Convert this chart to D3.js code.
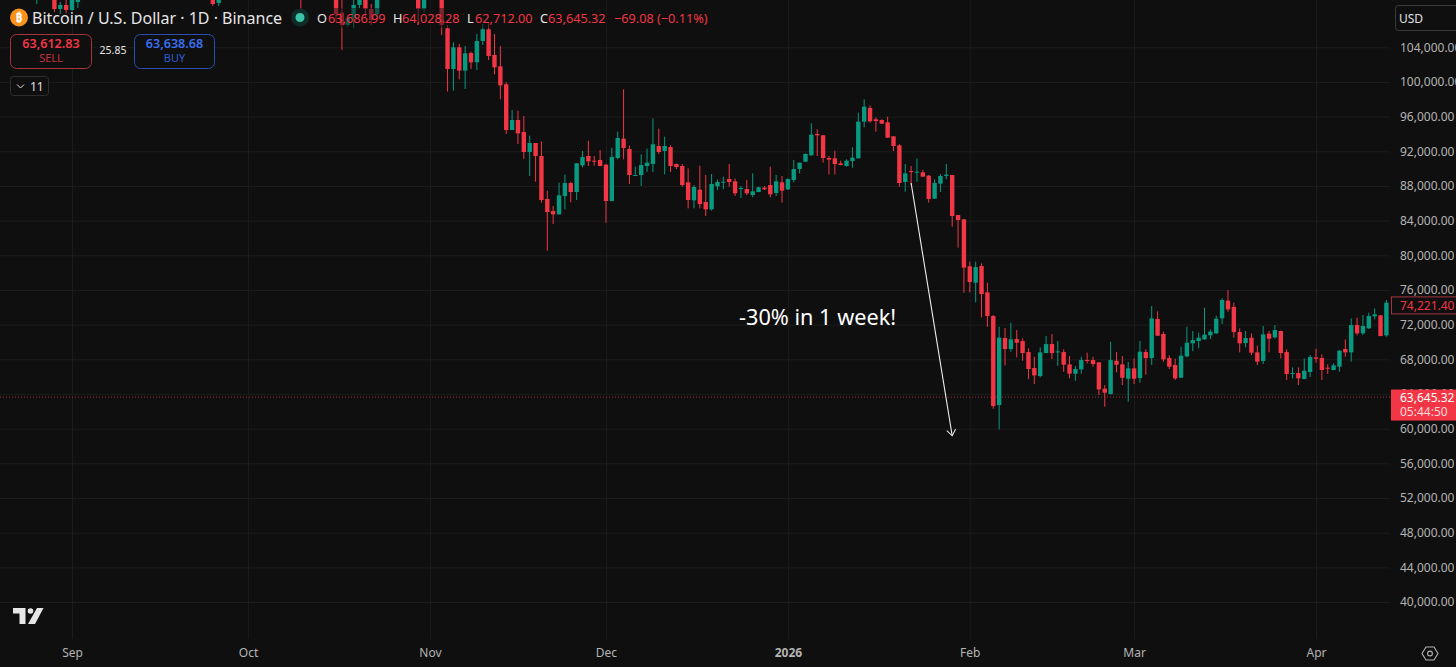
<!DOCTYPE html>
<html>
<head>
<meta charset="utf-8">
<script src="https://cdn.jsdelivr.net/npm/d3@7"></script>
<style>
  html, body { margin: 0; padding: 0; background: #0f0f0f; overflow: hidden; }
  text { font-family: "Noto Sans", sans-serif; }
  .grid line { stroke: #1c1c1c; stroke-width: 1; }
  .grid path { display: none; }
  .axis path { display: none; }
  .axis line { display: none; }
  .axis text { fill: #b4b4b4; font-size: 12px; font-family: "Noto Sans", sans-serif; }
</style>
</head>
<body>
<script>
// candles that only just show at the top edge (mostly above the view)
var earlyDates = ["2025-08-26","2025-08-29","2025-08-30","2025-08-31","2025-09-01","2025-09-02",
  "2025-09-25","2025-09-26","2025-10-10","2025-10-16","2025-10-17","2025-10-18","2025-10-19",
  "2025-10-20","2025-10-21","2025-10-22","2025-10-23","2025-10-30","2025-10-31"];
var earlyOpen  = [109800,110200,108422,108884,108307,109230,110500,109115,112000,110500,108000,106576,107384,108884,110000,108422,107845,110500,108422];
var earlyHigh  = [111000,110800,109230,109500,110500,111500,111000,110500,113000,111000,109500,107500,109600,111000,110500,109000,110500,111000,111000];
var earlyLow   = [109000,108076,107845,107961,108192,108538,108769,108769,108422,106922,103691,106400,106230,108500,107499,106576,107499,106576,108000];
var earlyClose = [110500,108422,108884,108307,109900,111000,109000,110000,110000,107845,106576,107384,108884,110000,108422,107153,110000,108422,110000];

// daily candles from 3 Nov 2025 to 13 Apr 2026
var firstDay = "2025-11-03";
var opens = [110000,106192,101499,104000,101307,103345,102268,104730,106077,103115,101807,99729,94459,95613,94228,91920,92958,91458,86495,85110,
  84726,86842,88342,87303,90381,91458,90919,90996,90458,86265,91227,93458,92266,89188,89265,90304,90535,92612,92035,92497,
  90535,90304,88419,86342,87574,86150,85304,87958,88381,88805,88535,87650,87650,86958,87304,87804,88112,87189,88420,87612,
  88689,89959,90805,91536,93998,93844,91228,91190,90613,90305,90882,91190,95421,96999,95691,95614,95344,93729,92690,88458,
  89728,89536,89574,89189,86535,88266,89151,89266,84650,84150,78726,76841,78765,75726,72994,62723,70455,69186,70339,70109,
  68839,66993,66069,68724,69762,68801,68839,67416,66339,66839,67916,67916,67647,64608,63992,67839,67416,65761,66954,65838,
  68839,68147,72648,70917,68147,67339,65878,68340,69841,70110,70302,70764,70995,72726,74765,74034,71149,69879,70495,68802,
  67802,70956,70533,71264,68840,66301,66417,65724,66532,68225,68148,67032,66763,67148,69187,68802,71956,70995,71572,72957,
  73072,70764];
var highs = [110500,106577,104576,104384,104153,103499,105538,106692,106769,105538,104153,99960,96767,96690,96075,93805,92958,93151,87458,85687,
  88380,89304,88496,90612,92035,93228,91458,92151,90535,92420,94266,99152,92651,90227,91651,92304,95805,94612,93689,92689,
  90573,90535,90035,88112,90343,89266,89382,88766,89074,90536,88843,87997,88689,89458,87920,87997,90228,89266,89151,88882,
  90997,90690,91767,95229,94537,93883,91459,92074,90920,91074,92459,96460,97999,97306,95921,95691,95998,93767,92805,90536,
  90305,91190,89843,89266,88766,89382,90536,89266,84650,84189,79265,79265,79072,76841,73110,71763,71609,72225,71378,70416,
  69263,68301,69378,70686,70917,70109,69147,68377,67224,68301,68762,68301,67685,65031,70032,68839,68377,67685,68108,70109,
  69147,74148,73533,71186,68455,68070,69456,71764,71264,71072,73957,71456,73034,75034,75996,74534,71572,71264,70995,69571,
  71841,71264,71957,71302,69148,67071,67071,68109,68494,69225,68571,67417,67533,69071,70302,72726,72803,73110,73380,73880,
  73110,74842];
var lows = [105420,98883,99000,100306,99191,101499,101383,104269,102538,100883,97998,93997,94459,92843,91150,89150,88496,86072,80532,83611,
  84700,85303,86111,86380,90150,90304,90342,90280,83764,86240,91073,91073,88227,89170,87996,89612,89612,91689,89342,89612,
  89958,87919,85419,85419,85419,84534,85150,87535,87612,87920,86842,86612,86958,86689,87280,87535,86689,86842,86073,87535,
  88420,89459,90780,91510,91459,90690,89343,89343,90382,90228,90113,91170,94767,95306,94267,95152,93550,92036,87920,87343,
  88112,88497,89050,86073,86510,87304,88766,83303,80880,75687,75726,74571,72841,71763,62299,59914,67300,68878,68224,67839,
  65723,65146,65916,68700,68031,67262,66570,65800,65531,66339,67531,67146,63877,62530,63950,66493,65031,63107,65146,65300,
  66224,67339,70700,67723,66878,65608,65855,68225,68956,69264,70280,70340,70918,72072,73495,70495,68802,69379,68494,67340,
  67456,68802,70379,68110,65609,65801,65032,65700,65955,67610,65609,66302,66740,66571,68302,67725,70764,70802,71495,72610,
  70660,70610];
var closes = [106580,101499,104000,101307,103307,102268,104730,106077,103000,101691,99614,94459,95613,94074,91920,92958,91458,86380,84995,84726,
  86919,88342,87303,90612,91343,90842,90842,90304,86265,91343,93535,92381,89265,89265,90419,90689,92805,91920,92612,90304,
  90189,88111,86380,87881,85919,85304,88228,88458,88497,88458,87150,87766,87150,87381,87843,87612,87035,88535,87458,88805,
  89959,90690,91690,93921,93844,91228,91036,90536,90420,90920,91267,95421,97152,95460,95498,95190,93575,92613,88343,89459,
  89612,89651,89074,86497,88343,89151,89305,84534,84073,78572,76918,78649,75533,72994,62607,70494,69186,70301,69917,68724,
  66878,66146,68800,69762,68724,68916,67377,66339,66877,67916,67800,67455,64531,64146,67916,67377,65877,66954,65761,68878,
  68147,72725,70724,67993,67147,65800,68417,69917,70225,70495,70841,71187,72687,74842,73765,71149,69841,70456,68764,67725,
  70879,70379,71379,68725,66301,66417,65801,66686,68263,68071,66763,66917,67302,68994,68802,71956,70995,71841,72995,73187,
  70687,74534];

// axis ticks
var priceTicks = [40000,44000,48000,52000,56000,60000,64000,68000,72000,76000,80000,84000,88000,92000,96000,100000,104000];
var monthTicks = ["2025-09-01","2025-10-01","2025-11-01","2025-12-01","2026-01-01","2026-02-01","2026-03-01","2026-04-01"];
var monthLabels = ["Sep","Oct","Nov","Dec","2026","Feb","Mar","Apr"];

// price lines and the drawing
var lastPrice = 63645.32;
var otherPrice = 74221.40;
var arrowFrom = {date: "2026-01-22", price: 88343};
var arrowTo = {date: "2026-01-29", price: 59182};

var width = 1456;
var height = 667;
var plotRight = 1390;
var plotBottom = 639;
var red = "#f23645";
var green = "#089981";

var parseDay = d3.utcParse("%Y-%m-%d");

var recentDays = d3.utcDay.range(parseDay(firstDay), d3.utcDay.offset(parseDay(firstDay), opens.length));

var candles = earlyDates.map(function(d, i){
  return {date: parseDay(d), o: earlyOpen[i], h: earlyHigh[i], l: earlyLow[i], c: earlyClose[i]};
}).concat(recentDays.map(function(d, i){
  return {date: d, o: opens[i], h: highs[i], l: lows[i], c: closes[i]};
}));

var svg = d3.select("body")
            .append("svg")
            .attr("width",width)
            .attr("height",height)
            .style("display","block");

var xScale = d3.scaleUtc()
                .domain([parseDay("2025-09-01"),parseDay("2026-04-01")])
                .range([72,1316]);

var yScale = d3.scaleLinear()
                .domain([40000,104000])
                .range([602,47.3]);

svg.append("rect").attr("width",width).attr("height",height).attr("fill","#0f0f0f");

// grid
svg.append("g")
    .attr("class","grid")
    .attr("transform","translate(0,"+plotBottom+")")
    .call(d3.axisBottom(xScale).tickValues(monthTicks.map(parseDay)).tickSize(-plotBottom).tickFormat(""));

svg.append("g")
    .attr("class","grid")
    .attr("transform","translate("+plotRight+",0)")
    .call(d3.axisLeft(yScale).tickValues(priceTicks).tickSize(plotRight).tickFormat(""));

// last price line
svg.append("line")
    .attr("x1",0)
    .attr("x2",plotRight)
    .attr("y1",yScale(lastPrice))
    .attr("y2",yScale(lastPrice))
    .attr("stroke",red)
    .attr("stroke-opacity",0.65)
    .attr("stroke-dasharray","1 2");

// candles
var candleG = svg.append("g");

candleG.selectAll("line.wick")
    .data(candles)
    .enter()
    .append("line")
    .attr("class","wick")
    .attr("x1",function(d){ return xScale(d.date); })
    .attr("x2",function(d){ return xScale(d.date); })
    .attr("y1",function(d){ return yScale(d.h); })
    .attr("y2",function(d){ return yScale(d.l); })
    .attr("stroke",function(d){ return d.c >= d.o ? green : red; })
    .attr("stroke-width",1);

candleG.selectAll("rect.body")
    .data(candles)
    .enter()
    .append("rect")
    .attr("class","body")
    .attr("x",function(d){ return xScale(d.date)-2.2; })
    .attr("width",4.4)
    .attr("y",function(d){ return yScale(Math.max(d.o,d.c)); })
    .attr("height",function(d){ return Math.max(1,Math.abs(yScale(d.o)-yScale(d.c))); })
    .attr("fill",function(d){ return d.c >= d.o ? green : red; });

// annotation
svg.append("defs").append("marker")
    .attr("id","arrowHead")
    .attr("markerUnits","userSpaceOnUse")
    .attr("viewBox","-7 -6 8 12")
    .attr("refX",0)
    .attr("refY",0)
    .attr("markerWidth",8)
    .attr("markerHeight",12)
    .attr("orient","auto")
    .append("path")
    .attr("d","M-6,-4.5L0,0L-6,4.5")
    .attr("fill","none")
    .attr("stroke","#f0f0f0")
    .attr("stroke-width",1);

svg.append("line")
    .attr("x1",xScale(parseDay(arrowFrom.date)))
    .attr("y1",yScale(arrowFrom.price))
    .attr("x2",xScale(parseDay(arrowTo.date)))
    .attr("y2",yScale(arrowTo.price))
    .attr("stroke","#f0f0f0")
    .attr("stroke-width",1.1)
    .attr("marker-end","url(#arrowHead)");

svg.append("text")
    .attr("x",739)
    .attr("y",325)
    .attr("fill","#ffffff")
    .style("font-size","21.7px")
    .text("-30% in 1 week!");

// price axis
svg.append("g")
    .attr("class","axis")
    .attr("transform","translate("+plotRight+",0)")
    .call(d3.axisRight(yScale).tickValues(priceTicks).tickSize(0).tickPadding(10).tickFormat(d3.format(",.2f")));

// time axis
svg.append("g")
    .attr("class","axis")
    .attr("transform","translate(0,"+plotBottom+")")
    .call(d3.axisBottom(xScale).tickValues(monthTicks.map(parseDay)).tickSize(0).tickPadding(9)
      .tickFormat(function(d,i){ return monthLabels[i]; }))
    .selectAll("text")
    .style("font-weight",function(d,i){ return monthLabels[i] == "2026" ? "bold" : "normal"; });

// price labels on the axis
svg.append("rect")
    .attr("x",1391.5).attr("y",yScale(otherPrice)-8.5)
    .attr("width",70).attr("height",17)
    .attr("fill","#0f0f0f").attr("stroke","#a8333d");
svg.append("text")
    .attr("x",1400).attr("y",yScale(otherPrice)+4.5)
    .attr("fill",red).style("font-size","12px")
    .text(d3.format(",.2f")(otherPrice));

svg.append("rect")
    .attr("x",1391).attr("y",yScale(lastPrice)-7.5)
    .attr("width",65).attr("height",31)
    .attr("fill",red);
svg.append("text")
    .attr("x",1400).attr("y",yScale(lastPrice)+5)
    .attr("fill","#ffffff").style("font-size","12px")
    .text(d3.format(",.2f")(lastPrice));
svg.append("text")
    .attr("x",1400).attr("y",yScale(lastPrice)+18.5)
    .attr("fill","#ffd9dc").style("font-size","12px")
    .text("05:44:50");

// USD button
svg.append("rect")
    .attr("x",1395.5).attr("y",5.5).attr("width",70).attr("height",25).attr("rx",3)
    .attr("fill","#0f0f0f").attr("stroke","#3a3a3a");
svg.append("text")
    .attr("x",1399).attr("y",22.5).attr("fill","#e0e0e0").style("font-size","12px").text("USD");

// legend
svg.append("rect")
    .attr("x",290).attr("y",8).attr("width",424).attr("height",20)
    .attr("fill","#0f0f0f").attr("fill-opacity",0.5);

svg.append("circle").attr("cx",19).attr("cy",17.5).attr("r",9).attr("fill","#f7931a");
svg.append("text").attr("x",19).attr("y",22).attr("text-anchor","middle")
    .attr("fill","#ffffff").style("font-size","12px").style("font-weight","bold").text("₿");

svg.append("text")
    .attr("x",32).attr("y",23.5)
    .attr("fill","#e6e6e6")
    .style("font-size","16px")
    .text("Bitcoin / U.S. Dollar · 1D · Binance");

svg.append("circle").attr("cx",300).attr("cy",17.5).attr("r",9).attr("fill","#0f9d82").attr("fill-opacity",0.22);
svg.append("circle").attr("cx",300).attr("cy",17.5).attr("r",4.5).attr("fill","#3cc4a8");

var legendParts = [
  {x:317, t:"O", c:"#e6e6e6"}, {x:328, t:"63,686.99", c:red},
  {x:393, t:"H", c:"#e6e6e6"}, {x:402, t:"64,028.28", c:red},
  {x:467, t:"L", c:"#e6e6e6"}, {x:475, t:"62,712.00", c:red},
  {x:540, t:"C", c:"#e6e6e6"}, {x:548, t:"63,645.32", c:red},
  {x:614, t:"−69.08 (−0.11%)", c:red}
];
svg.selectAll("text.legend")
    .data(legendParts)
    .enter()
    .append("text")
    .attr("class","legend")
    .attr("x",function(d){ return d.x; })
    .attr("y",22.5)
    .attr("fill",function(d){ return d.c; })
    .style("font-size","12.7px")
    .text(function(d){ return d.t; });

// sell / buy
svg.append("rect").attr("x",10.5).attr("y",34.5).attr("width",81).attr("height",34).attr("rx",6)
    .attr("fill","#0f0f0f").attr("stroke","#a8333d");
svg.append("text").attr("x",51).attr("y",48).attr("text-anchor","middle").attr("fill",red)
    .style("font-size","12.6px").style("font-weight","600").text("63,612.83");
svg.append("text").attr("x",51).attr("y",62).attr("text-anchor","middle").attr("fill","#c9303c")
    .style("font-size","11px").text("SELL");
svg.append("text").attr("x",113).attr("y",54).attr("text-anchor","middle").attr("fill","#e6e6e6")
    .style("font-size","10.5px").text("25.85");
svg.append("rect").attr("x",134.5).attr("y",34.5).attr("width",80).attr("height",34).attr("rx",6)
    .attr("fill","#0f0f0f").attr("stroke","#2a4fb0");
svg.append("text").attr("x",174.5).attr("y",48).attr("text-anchor","middle").attr("fill","#3b6ff0")
    .style("font-size","12.6px").style("font-weight","600").text("63,638.68");
svg.append("text").attr("x",174.5).attr("y",62).attr("text-anchor","middle").attr("fill","#2f5bd0")
    .style("font-size","11px").text("BUY");

// collapse button
svg.append("rect").attr("x",10.5).attr("y",76.5).attr("width",38).attr("height",19).attr("rx",3)
    .attr("fill","#0f0f0f").attr("stroke","#2e2e2e");
svg.append("path").attr("d","M17,84.5L20.5,88L24,84.5").attr("fill","none").attr("stroke","#e0e0e0");
svg.append("text").attr("x",30).attr("y",91).attr("fill","#e0e0e0").style("font-size","12px").text("11");

// logo
svg.append("path").attr("d","M13,608H25.5V624H19.5V613.5H13Z").attr("fill","#e6e6e6");
svg.append("circle").attr("cx",30.5).attr("cy",611).attr("r",2.8).attr("fill","#e6e6e6");
svg.append("path").attr("d","M37,608H43.5L35,624H28Z").attr("fill","#e6e6e6");

// settings icon
svg.append("path").attr("d","M1426,647L1434,647L1438,653.5L1434,660L1426,660L1422,653.5Z")
    .attr("fill","none").attr("stroke","#b4b4b4").attr("stroke-width",1.1);
svg.append("circle").attr("cx",1430).attr("cy",653.5).attr("r",2.4)
    .attr("fill","none").attr("stroke","#b4b4b4").attr("stroke-width",1.1);
</script>
</body>
</html>
